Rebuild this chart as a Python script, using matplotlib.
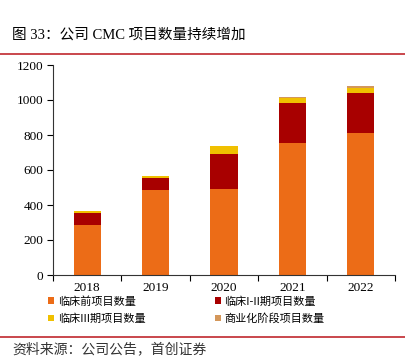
import matplotlib
matplotlib.use("Agg")
import matplotlib.pyplot as plt
import numpy as np
from matplotlib.lines import Line2D
from matplotlib.patches import Patch

years = ["2018", "2019", "2020", "2021", "2022"]
preclinical = [285, 487, 490, 756, 812]
phase12 = [67, 70, 200, 225, 229]
phase3 = [12, 10, 50, 30, 27]
commercial = [0, 0, 0, 5, 13]
series_names = ["临床前项目数量", "临床I-II期项目数量", "临床III期项目数量", "商业化阶段项目数量"]
colors = ["#EC6C17", "#A80000", "#F0C000", "#D4975A"]

cjk = ["Liberation Serif", "Noto Sans CJK SC", "DejaVu Sans"]
cjk_sans = ["Noto Sans CJK SC", "DejaVu Sans"]

fig = plt.figure(figsize=(4.05, 3.63), dpi=100)
W, H = 405, 363
ax = fig.add_axes([53 / W, 1 - 275 / H, (395 - 53) / W, (275 - 65) / H])

x = np.arange(len(years))
bottom = np.zeros(len(years))
for vals, c in zip([preclinical, phase12, phase3, commercial], colors):
    ax.bar(x, vals, width=0.4, bottom=bottom, color=c, edgecolor="none", zorder=2)
    bottom += np.array(vals)

ax.set_xlim(-0.5, len(years) - 0.5)
ax.set_ylim(0, 1200)
ax.set_yticks(np.arange(0, 1201, 200))
ax.set_xticks(x)
ax.set_xticklabels(years)
ax.set_xticks(np.arange(-0.5, len(years) - 0.4, 1), minor=True)
ax.tick_params(axis="x", which="major", length=0, pad=5)
ax.tick_params(axis="x", which="minor", length=4, direction="out", width=0.8)
ax.tick_params(axis="y", length=4, direction="out", width=0.8, pad=3)
for lab in ax.get_xticklabels() + ax.get_yticklabels():
    lab.set_fontfamily("Liberation Serif")
    lab.set_fontsize(9.5)
for s in ["top", "right"]:
    ax.spines[s].set_visible(False)
for s in ["left", "bottom"]:
    ax.spines[s].set_linewidth(0.8)
    ax.spines[s].set_color("#333333")

# title
fig.text(12 / W, 1 - 35 / H, "图 33：公司 CMC 项目数量持续增加", family=cjk, fontsize=10.5,
         va="center", ha="left")
fig.add_artist(Line2D([0, 1], [1 - 54 / H, 1 - 54 / H], color="#C0282D", lw=1.2,
                      transform=fig.transFigure))
fig.add_artist(Line2D([0, 1], [1 - 337 / H, 1 - 337 / H], color="#C0282D", lw=1.2,
                      transform=fig.transFigure))

# legend (row-wise order)
order = [0, 2, 1, 3]
handles = [Patch(facecolor=colors[i], edgecolor="none") for i in order]
labels = [series_names[i] for i in order]
leg = fig.legend(handles, labels, loc="upper left",
                 bbox_to_anchor=(48 / W, 1 - 296 / H), ncol=2, frameon=False,
                 prop={"family": cjk_sans, "size": 8}, handlelength=0.55, handleheight=0.55,
                 handletextpad=0.35, columnspacing=6.2, labelspacing=0.6,
                 borderaxespad=0, borderpad=0)

fig.text(12 / W, 1 - 349 / H, "资料来源：公司公告，首创证券", family=cjk_sans, fontsize=10,
         style="italic", va="center", ha="left", color="#333333")

fig.savefig("out.png", dpi=100)
